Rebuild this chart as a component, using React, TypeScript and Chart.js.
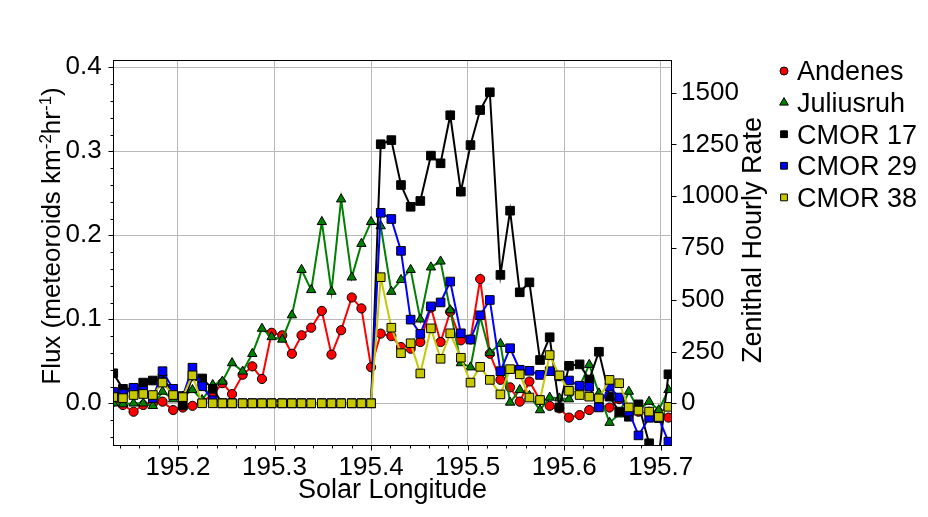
import { useEffect, useRef } from "react";
import { Chart, registerables, ChartConfiguration, Plugin } from "chart.js";

Chart.register(...registerables);

// solar longitude of each bin (deg)
const solarLongitude = [
  195.133, 195.143, 195.154, 195.164, 195.174, 195.184, 195.195, 195.205, 195.215, 195.225,
  195.236, 195.246, 195.256, 195.267, 195.277, 195.287, 195.297, 195.308, 195.318, 195.328,
  195.338, 195.349, 195.359, 195.369, 195.38, 195.39, 195.4, 195.41, 195.421, 195.431,
  195.441, 195.451, 195.462, 195.472, 195.482, 195.493, 195.503, 195.513, 195.523, 195.534,
  195.544, 195.554, 195.564, 195.575, 195.585, 195.595, 195.605, 195.616, 195.626, 195.636,
  195.647, 195.657, 195.667, 195.677, 195.688, 195.698, 195.708,
];

// flux, meteoroids km^-2 hr^-1 (left axis)
const andenes = [
  0.002, -0.002, -0.01, -0.002, 0.0, 0.002, -0.008, -0.005, -0.003, 0.002,
  0.01, 0.024, 0.011, 0.034, 0.044, 0.029, 0.084, 0.081, 0.059, 0.081,
  0.09, 0.11, 0.058, 0.087, 0.126, 0.113, 0.043, 0.083, 0.08, 0.067,
  0.065, 0.073, 0.114, 0.073, 0.109, 0.075, 0.076, 0.148, 0.059, 0.028,
  0.019, 0.002, 0.026, 0.004, -0.003, -0.006, -0.017, -0.014, -0.008, -0.002,
  -0.005, 0.005, -0.008, -0.01, -0.01, -0.011, -0.017,
];
const juliusruh = [
  0.0, -0.001, 0.0, 0.0, -0.003, 0.014, 0.005, 0.008, 0.016, 0.004,
  0.022, 0.026, 0.048, 0.038, 0.059, 0.089, 0.079, 0.076, 0.105, 0.159,
  0.135, 0.216, 0.133, 0.243, 0.15, 0.19, 0.216, 0.211, 0.133, 0.147,
  0.159, 0.1, 0.162, 0.169, 0.111, 0.048, 0.043, 0.103, 0.06, 0.071,
  0.001, 0.016, 0.009, -0.008, 0.007, 0.006, 0.005, 0.02, 0.046, 0.012,
  -0.023, -0.013, 0.014, -0.008, 0.002, -0.008, 0.016,
];

// zenithal hourly rate (right axis)
const cmor17 = [
  145, 70, 70, 100, 110, 120, 55, -10, 130, 120,
  70, 0, 0, 0, 0, 0, 0, 0, 0, 0,
  0, 0, 0, 0, 0, 0, 0, 1251, 1271, 1054,
  949, 977, 1196, 1159, 1391, 1022, 1247, 1416, 1502, 620,
  930, 536, 584, 209, 319, -20, 181, 188, 115, 249,
  32, -40, -65, -5, -193, -255, 140,
];
const cmor29 = [
  55, 45, 75, 60, 25, 155, 70, 35, 172, 82,
  15, 0, 0, 0, 0, 0, 0, 0, 0, 0,
  0, 0, 0, 0, 0, 0, 0, 920, 890, 736,
  404, 335, 468, 487, 588, 338, 308, 425, 499, 155,
  266, 162, 157, 137, 155, 130, 110, 85, 80, -20,
  80, 28, -40, -155, -70, -72, -185,
];
const cmor38 = [
  30, 25, 40, 45, 40, 100, 40, 30, 135, 0,
  0, 0, 0, 0, 0, 0, 0, 0, 0, 0,
  0, 0, 0, 0, 0, 0, 0, 609, 365, 242,
  290, 144, 362, 215, 338, 220, 100, 176, 113, 43,
  165, 140, 28, 16, 233, 135, 60, 40, 32, 24,
  113, 97, -20, -35, -40, -66, -17,
];

const FONT = 'Arial, "Liberation Sans", sans-serif';
const GRID = "#b8b8b8";

const series = [
  { label: "Andenes", values: andenes, axis: "y", color: "#ff0000", shape: "circle", radius: 4.6, key: 4 },
  { label: "Juliusruh", values: juliusruh, axis: "y", color: "#008000", shape: "triangle", radius: 5.4, key: 5 },
  { label: "CMOR 17", values: cmor17, axis: "y1", color: "#000000", shape: "rect", radius: 6.1, key: 4.8 },
  { label: "CMOR 29", values: cmor29, axis: "y1", color: "#0000ff", shape: "rect", radius: 6.1, key: 4.8 },
  { label: "CMOR 38", values: cmor38, axis: "y1", color: "#c8c800", shape: "rect", radius: 6.1, key: 4.8 },
];

const isMajor = (v: number, step: number) => Math.abs(v / step - Math.round(v / step)) < 1e-6;

function drawMarker(ctx: CanvasRenderingContext2D, shape: string, x: number, y: number, r: number, fill: string) {
  ctx.beginPath();
  if (shape === "circle") {
    ctx.arc(x, y, r, 0, Math.PI * 2);
  } else if (shape === "triangle") {
    ctx.moveTo(x, y - r);
    ctx.lineTo(x + r * 0.866, y + r * 0.5);
    ctx.lineTo(x - r * 0.866, y + r * 0.5);
    ctx.closePath();
  } else {
    const h = r * Math.SQRT1_2;
    ctx.rect(x - h, y - h, 2 * h, 2 * h);
  }
  ctx.fillStyle = fill;
  ctx.fill();
  ctx.strokeStyle = "#000";
  ctx.lineWidth = 1;
  ctx.stroke();
}

// frame, tick marks, y titles and legend
const decorations: Plugin<"line"> = {
  id: "decorations",
  afterDraw(chart) {
    const { ctx, chartArea: a, scales } = chart;
    const l = Math.round(a.left) + 0.5;
    const r = Math.round(a.right) - 0.5;
    const t = Math.round(a.top) + 0.5;
    const b = Math.round(a.bottom) - 0.5;

    ctx.save();
    ctx.strokeStyle = "#000";
    ctx.lineWidth = 1;
    ctx.strokeRect(l, t, r - l, b - t);

    ctx.beginPath();
    for (const tk of scales.x.ticks) {
      const px = Math.round(scales.x.getPixelForValue(tk.value)) + 0.5;
      const len = isMajor(tk.value, 0.1) ? 5 : 3;
      ctx.moveTo(px, b);
      ctx.lineTo(px, b + len);
    }
    for (const tk of scales.y.ticks) {
      const py = Math.round(scales.y.getPixelForValue(tk.value)) + 0.5;
      const len = isMajor(tk.value, 0.1) ? 5 : 3;
      ctx.moveTo(l, py);
      ctx.lineTo(l - len, py);
    }
    for (const tk of scales.y1.ticks) {
      const py = Math.round(scales.y1.getPixelForValue(tk.value)) + 0.5;
      ctx.moveTo(r, py);
      ctx.lineTo(r + 5, py);
    }
    ctx.stroke();

    ctx.fillStyle = "#000";

    // left title, with superscripts
    const parts: [string, boolean][] = [
      ["Flux (meteoroids km", false],
      ["-2", true],
      ["hr", false],
      ["-1", true],
      [")", false],
    ];
    const mainFont = `26px ${FONT}`;
    const supFont = `17px ${FONT}`;
    let total = 0;
    const widths = parts.map(([s, sup]) => {
      ctx.font = sup ? supFont : mainFont;
      const w = ctx.measureText(s).width;
      total += w;
      return w;
    });
    ctx.save();
    ctx.translate(59.5, 236);
    ctx.rotate(-Math.PI / 2);
    ctx.textAlign = "left";
    ctx.textBaseline = "alphabetic";
    let x = -total / 2;
    parts.forEach(([s, sup], i) => {
      ctx.font = sup ? supFont : mainFont;
      ctx.fillText(s, x, sup ? -9 : 0);
      x += widths[i];
    });
    ctx.restore();

    // right title
    ctx.save();
    ctx.translate(754, 240);
    ctx.rotate(-Math.PI / 2);
    ctx.font = `27px ${FONT}`;
    ctx.textAlign = "center";
    ctx.textBaseline = "middle";
    ctx.fillText("Zenithal Hourly Rate", 0, 0);
    ctx.restore();

    // legend
    series.forEach((s, i) => {
      const y = 72 + i * 31.6;
      drawMarker(ctx, s.shape, 784, y - 1, s.key, s.color);
      ctx.fillStyle = "#000";
      ctx.font = `27px ${FONT}`;
      ctx.textAlign = "left";
      ctx.textBaseline = "middle";
      ctx.fillText(s.label, 797, y + 1);
    });

    ctx.restore();
  },
};

function App() {
  const chartRef = useRef<HTMLCanvasElement | null>(null);

  useEffect(() => {
    const ctx = chartRef.current?.getContext("2d");
    if (!ctx) return;

    Chart.defaults.font.family = FONT;
    Chart.defaults.color = "#000";

    const minorGrid = (c: any) => (c.tick && isMajor(c.tick.value, 0.1) ? GRID : "rgba(0,0,0,0)");
    const label = (v: any) => (isMajor(Number(v), 0.1) ? (Math.round(Number(v) * 10) / 10).toFixed(1) : "");

    const config: ChartConfiguration<"line"> = {
      type: "line",
      data: {
        datasets: series.map((s, i) => ({
          label: s.label,
          data: solarLongitude.map((lon, k) => ({ x: lon, y: s.values[k] })),
          yAxisID: s.axis,
          borderColor: s.color,
          backgroundColor: s.color,
          borderWidth: 2,
          tension: 0,
          fill: false,
          pointStyle: s.shape as any,
          pointRadius: s.radius,
          pointBackgroundColor: s.color,
          pointBorderColor: "#000",
          pointBorderWidth: 1,
          clip: 0,
          order: series.length - 1 - i,
        })),
      },
      options: {
        responsive: false,
        animation: false,
        events: [],
        layout: { padding: { top: 60, left: 0, right: 0, bottom: 0 } },
        plugins: {
          legend: { display: false },
          tooltip: { enabled: false },
        },
        scales: {
          x: {
            type: "linear",
            min: 195.1327,
            max: 195.7117,
            afterFit: (s) => {
              s.height = 71;
            },
            ticks: {
              stepSize: 0.02,
              includeBounds: false,
              autoSkip: false,
              maxRotation: 0,
              padding: 1.3,
              font: { size: 26 },
              callback: label,
            },
            grid: { color: minorGrid, tickColor: "rgba(0,0,0,0)", tickLength: 5 },
            border: { display: false },
            title: {
              display: true,
              text: "Solar Longitude",
              font: { size: 27 },
              padding: { top: 0, bottom: 10.5 },
            },
          },
          y: {
            type: "linear",
            position: "left",
            min: -0.0508,
            max: 0.4087,
            afterFit: (s) => {
              s.width = 113;
            },
            ticks: {
              stepSize: 0.02,
              includeBounds: false,
              autoSkip: false,
              padding: 6.3,
              font: { size: 26 },
              callback: label,
            },
            grid: { color: minorGrid, tickColor: "rgba(0,0,0,0)", tickLength: 5 },
            border: { display: false },
          },
          y1: {
            type: "linear",
            position: "right",
            min: -206.2,
            max: 1657.8,
            afterFit: (s) => {
              s.width = 256;
            },
            ticks: {
              stepSize: 250,
              includeBounds: false,
              padding: 4,
              font: { size: 26 },
              callback: (v) => String(Math.round(Number(v))),
            },
            grid: { drawOnChartArea: false, tickColor: "rgba(0,0,0,0)", tickLength: 5 },
            border: { display: false },
          },
        },
      },
      plugins: [decorations],
    };

    const chart = new Chart(ctx, config);
    return () => {
      chart.destroy();
    };
  }, []);

  return (
    <div style={{ position: "absolute", left: 0, top: 0, width: 928, height: 517, background: "#fff" }}>
      <canvas ref={chartRef} width={928} height={517} style={{ display: "block" }}></canvas>
    </div>
  );
}

export default App;
